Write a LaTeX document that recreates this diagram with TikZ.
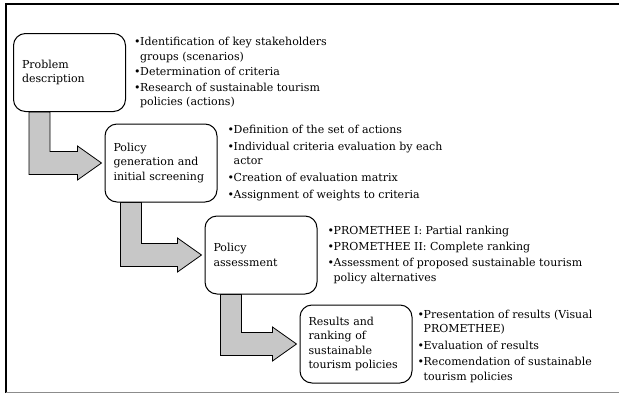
\documentclass[tikz,border=0pt]{standalone}
\usepackage{fontspec}
\setmainfont{DejaVu Serif}
\usepackage{tikz}
\usetikzlibrary{calc,positioning,backgrounds}
\colorlet{pmgray}{black!22}
\colorlet{pmrule}{black!45}
\newcommand{\pmbul}{\makebox[6pt][l]{\textbullet}}
\newcommand{\pmind}{\hspace*{6pt}}
\tikzset{
  pmstage/.style={
    draw,
    line width=1pt,
    rounded corners=12pt,
    fill=white,
    align=left,
    text width=95pt,
    inner xsep=8.5pt,
    inner ysep=0pt,
    minimum height=78pt,
    font=\fontsize{11}{14.5}\selectfont
  },
  pmlist/.style={align=left,inner sep=0pt,font=\fontsize{11}{14.5}\selectfont},
  pmarrow/.style={draw,line width=0.8pt,fill=pmgray,line join=miter},
  pmframe/.style={line width=1.5pt}
}

\begin{document}
\begin{tikzpicture}[x=1pt,y=-1pt]
  \useasboundingbox (0,0) rectangle (619,394);
  \draw[pmframe] (6,393) -- (6,4) -- (619,4);
  \draw[pmrule,line width=1pt] (6,392.5) -- (619,392.5);

  \node[pmstage] (prob) at (69.5,72.5) {Problem\\description};
  \node[pmstage] (gen) at (161,163) {Policy\\generation and\\initial screening};
  \node[pmstage] (ass) at (261,255) {Policy\\assessment};
  \node[pmstage] (res) at (356,344) {Results and\\ranking of\\sustainable\\tourism policies};

  \node[pmlist,right=8pt of prob] (probl) {\pmbul Identification of key stakeholders\\
    \pmind groups (scenarios)\\[1pt]
    \pmbul Determination of criteria\\[1pt]
    \pmbul Research of sustainable tourism\\
    \pmind policies (actions)};
  \node[pmlist,right=10pt of gen] (genl) {\pmbul Definition of the set of actions\\[2.5pt]
    \pmbul Individual criteria evaluation by each\\
    \pmind actor\\[2.5pt]
    \pmbul Creation of evaluation matrix\\[2.5pt]
    \pmbul Assignment of weights to criteria};
  \node[pmlist,right=10pt of ass] (assl) {\pmbul PROMETHEE I: Partial ranking\\[1.5pt]
    \pmbul PROMETHEE II: Complete ranking\\[1.5pt]
    \pmbul Assessment of proposed sustainable tourism\\
    \pmind policy alternatives};
  \node[pmlist,right=5pt of res,yshift=-2pt] (resl) {\pmbul Presentation of results (Visual\\
    \pmind PROMETHEE)\\[2pt]
    \pmbul Evaluation of results\\[2pt]
    \pmbul Recomendation of sustainable\\
    \pmind tourism policies};

  \begin{scope}[on background layer]
    \foreach \a/\b in {prob/gen,gen/ass,ass/res}
      \draw[pmarrow] ($(\a.south west)+(16,0)$) -- ++(21,0)
        |- ($(\b.west)+(-27,-11.5)$) -- ++(0,-5.5) -- ($(\b.west)+(-3,0)$)
        -- ($(\b.west)+(-27,17)$) -- ++(0,-5.5) -| ($(\a.south west)+(16,0)$) -- cycle;
  \end{scope}
\end{tikzpicture}
\end{document}
